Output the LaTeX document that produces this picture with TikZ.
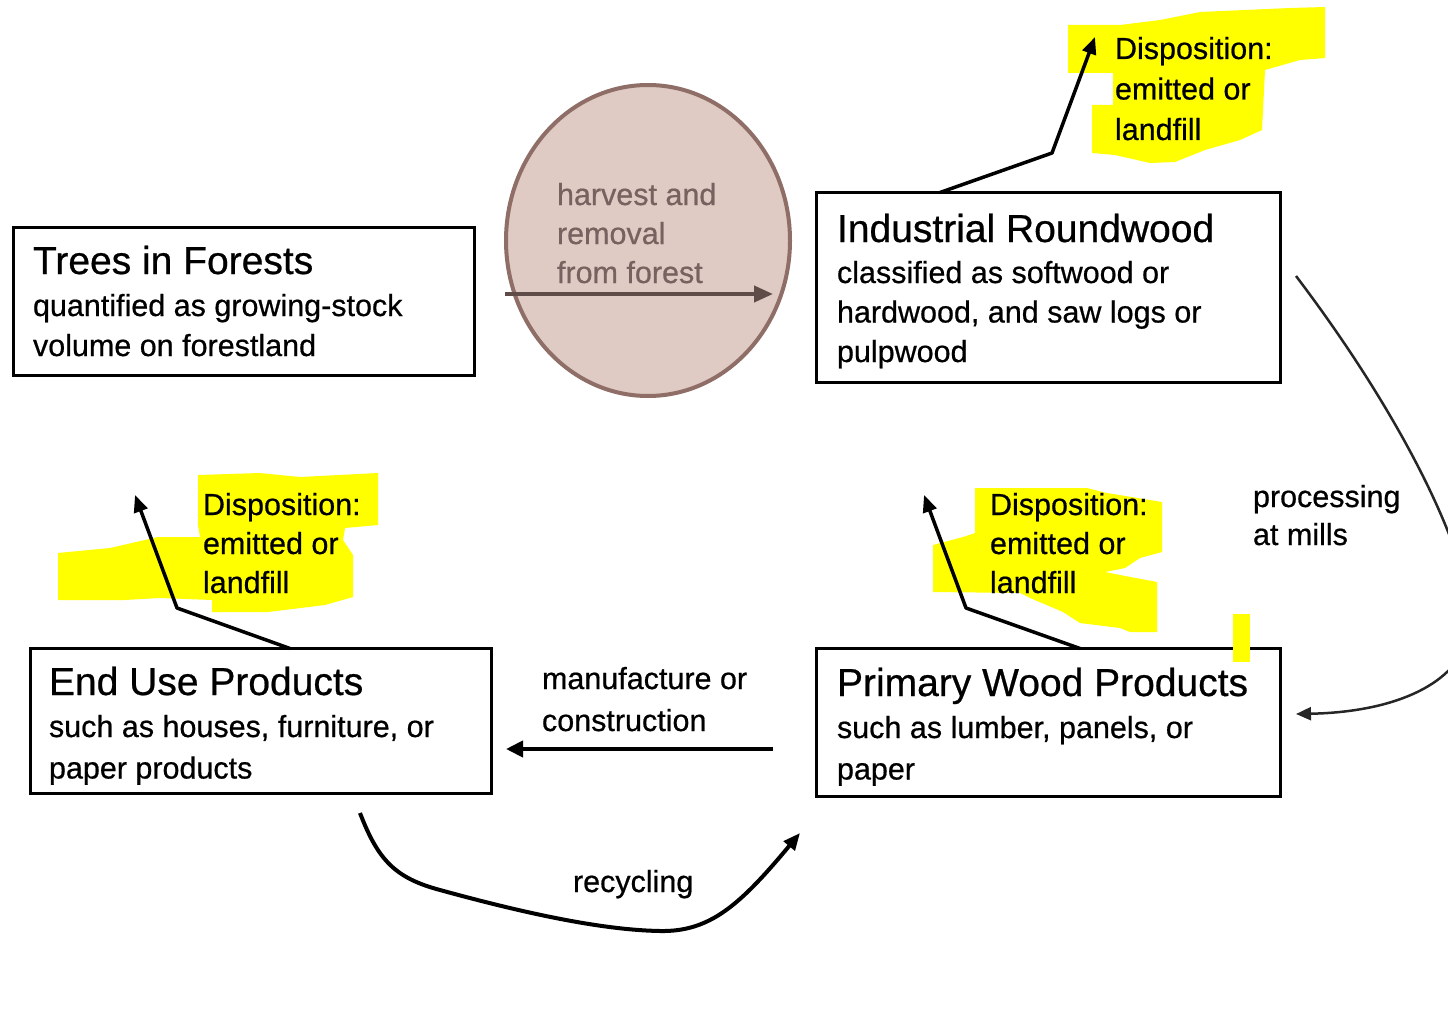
\documentclass[tikz,border=0pt]{standalone}
\usepackage{fontspec}
\setmainfont{Liberation Sans}[UprightFeatures={FakeBold=0.6}]
\usetikzlibrary{arrows.meta,shapes.geometric}
\definecolor{hl}{RGB}{255,255,0}
\definecolor{circfill}{RGB}{223,202,196}
\definecolor{circdraw}{RGB}{142,110,102}
\definecolor{circtext}{RGB}{120,98,95}
\definecolor{harvarrow}{RGB}{95,75,72}
\newcommand\mytitlefont{\fontsize{39}{40}\selectfont}
\newcommand\mybodyfont[1]{\fontsize{30.5}{#1}\selectfont}
\newcommand\mylines[2]{\mybodyfont{#1}\begin{tabular}[t]{@{}l@{}}#2\end{tabular}}
\begin{document}
\begin{tikzpicture}[x=1pt,y=-1pt,
  box/.style={draw=black, line width=3pt, rectangle, inner sep=0pt, outer sep=0pt, anchor=north west},
  txt/.style={anchor=base west, inner sep=0pt, outer sep=0pt},
  conn/.style={line width=3.5pt, line join=round, -{Triangle[length=17pt,width=14pt]}},
  hlight/.style={fill=hl, draw=none}]
\useasboundingbox[fill=white] (0,0) rectangle (1448,1022);

% highlights
\fill[hlight] (1068,25) -- (1120,25) -- (1160,20) -- (1200,12) -- (1245,10) -- (1290,8) -- (1325,7)
  -- (1325,58) -- (1300,60) -- (1265,70) -- (1262,130) -- (1240,140) -- (1205,150) -- (1175,162)
  -- (1150,163) -- (1115,155) -- (1092,153) -- (1092,105) -- (1113,105) -- (1113,73) -- (1068,73) -- cycle;
\fill[hlight] (198,475) -- (260,473) -- (300,477) -- (378,473) -- (378,525) -- (345,528) -- (343,540)
  -- (353,555) -- (353,597) -- (325,605) -- (268,612) -- (212,612) -- (212,600) -- (160,598)
  -- (125,600) -- (58,600) -- (58,553) -- (110,548) -- (158,537) -- (200,537) -- (198,525) -- cycle;
\fill[hlight] (975,488) -- (1087,488) -- (1107,493) -- (1162,502) -- (1162,552) -- (1140,558)
  -- (1125,568) -- (1105,572) -- (1120,575) -- (1157,582) -- (1157,632) -- (1130,632) -- (1120,628)
  -- (1080,623) -- (1063,612) -- (1030,598) -- (1020,593) -- (933,592) -- (933,545) -- (963,537)
  -- (975,533) -- cycle;

% boxes
\node[box, minimum width=461pt, minimum height=148pt] (trees) at (13.5,227.5) {};
\node[box, minimum width=464pt, minimum height=189.5pt] (indus) at (816.5,192.5) {};
\node[box, minimum width=461pt, minimum height=145pt] (enduse) at (30.5,648.5) {};
\node[box, minimum width=464pt, minimum height=148pt] (primary) at (816.5,648.5) {};

\fill[hlight] (1233,614) rectangle (1250,662);

% harvest circle
\node[ellipse, draw=circdraw, fill=circfill, line width=4pt, inner sep=0pt,
  minimum width=284pt, minimum height=311pt] (harv) at (648,240.5) {};
\node[txt, text=circtext] (harvT) at (557,205) {\mylines{39}{harvest and\\ removal\\ from forest}};
\coordinate (hs) at (505,294);
\coordinate (he) at (773,294);
\draw[line width=4pt, harvarrow, -{Triangle[length=19pt,width=16pt]}] (hs) -- (he);

% box texts
\node[txt] (treesT) at (33,274) {\mytitlefont Trees in Forests};
\node[txt] (treesB) at (33,316) {\mylines{40}{quantified as growing-stock\\ volume on forestland}};
\node[txt] (indusT) at (837,242) {\mytitlefont Industrial Roundwood};
\node[txt] (indusB) at (837,283) {\mylines{39.5}{classified as softwood or\\ hardwood, and saw logs or\\ pulpwood}};
\node[txt] (enduseT) at (49,695) {\mytitlefont End Use Products};
\node[txt] (enduseB) at (49,737) {\mylines{41.5}{such as houses, furniture, or\\ paper products}};
\node[txt] (primaryT) at (837,696) {\mytitlefont Primary Wood Products};
\node[txt] (primaryB) at (837,738) {\mylines{41.5}{such as lumber, panels, or\\ paper}};

% disposition labels
\node[txt] (disp1) at (1115,59) {\mylines{40.5}{Disposition:\\ emitted or\\ landfill}};
\node[txt] (disp2) at (203,515) {\mylines{39}{Disposition:\\ emitted or\\ landfill}};
\node[txt] (disp3) at (990,515) {\mylines{39}{Disposition:\\ emitted or\\ landfill}};

% disposition arrows
\coordinate (d1b) at (1052,153);
\coordinate (d1t) at (1095,37);
\draw[conn] ([xshift=123.5pt]indus.north west) -- (d1b) -- (d1t);
\coordinate (d2b) at (177,608);
\coordinate (d2t) at (135,495);
\draw[conn] ([xshift=259.5pt]enduse.north west) -- (d2b) -- (d2t);
\coordinate (d3b) at (966,608);
\coordinate (d3t) at (924,495);
\draw[conn] ([xshift=263.5pt]primary.north west) -- (d3b) -- (d3t);

% manufacture
\node[txt] (manuf) at (542,689) {\mylines{42}{manufacture or\\ construction}};
\coordinate (ms) at (773,749);
\coordinate (me) at (506,749);
\draw[line width=4pt, -{Triangle[length=17pt,width=16pt]}] (ms) -- (me);

% recycling
\node[txt] (recyc) at (573,892) {\mybodyfont{40}recycling};
\coordinate (rs) at (360,813);
\coordinate (re) at (800,833);
\draw[line width=4pt, -{Triangle[length=17pt,width=14pt]}] (rs)
  .. controls (378,860) and (395,878) .. (440,890)
  .. controls (520,912) and (600,930) .. (660,931)
  .. controls (710,932) and (740,905) .. (re);

% processing at mills
\node[txt] (proc) at (1253,507) {\mylines{38}{processing\\ at mills}};
\coordinate (ps) at (1296,276);
\coordinate (pe) at (1296,714);
\begin{scope}
\clip (0,0) rectangle (1448,1022);
\draw[line width=2.5pt, black!85, -{Triangle[length=15pt,width=13pt]}] (ps)
  .. controls (1390,400) and (1460,530) .. (1472,615)
  .. controls (1472,680) and (1400,712) .. (pe);
\end{scope}
\end{tikzpicture}
\end{document}
